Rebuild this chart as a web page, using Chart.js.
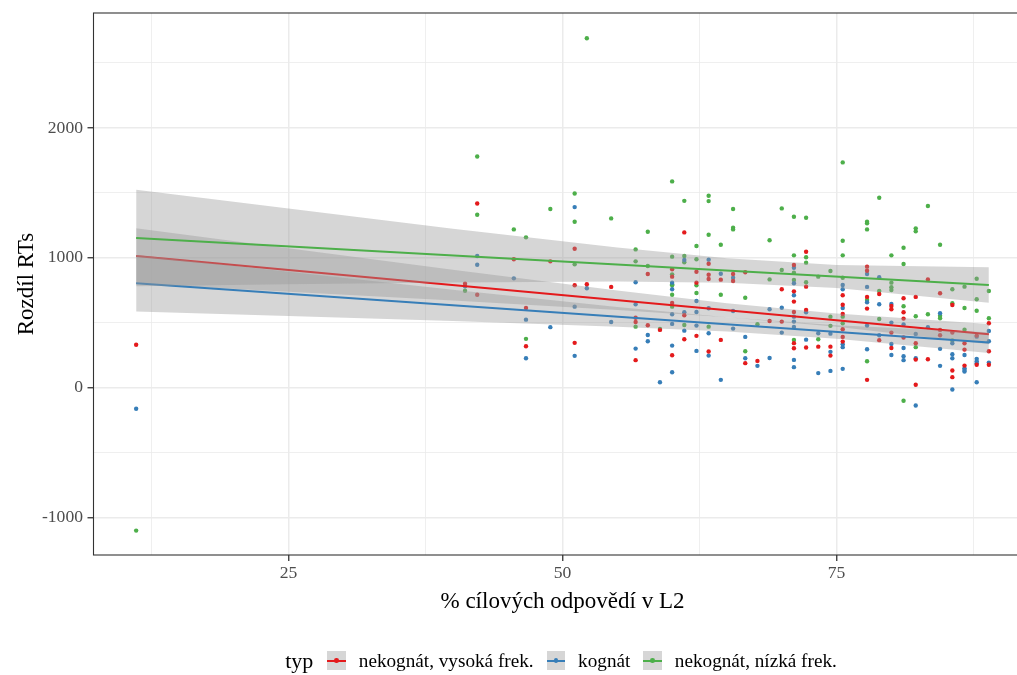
<!DOCTYPE html>
<html><head><meta charset="utf-8">
<script src="https://cdn.jsdelivr.net/npm/chart.js@4.4.1/dist/chart.umd.min.js"></script>
<style>
html,body{margin:0;padding:0;background:#fff;overflow:hidden;width:1017px;height:675px;}
#wrap{position:relative;width:1060px;height:675px;}
#legend{position:absolute;left:0;top:648px;width:1122px;height:25px;display:flex;justify-content:center;align-items:center;font-family:"Liberation Serif",serif;color:#000;white-space:nowrap;}
#legend .ttl{font-size:22px;margin-right:14px;}
#legend .key{position:relative;display:inline-block;width:18.5px;height:18.5px;background:#D6D6D6;margin-right:13px;}
#legend .ln{position:absolute;left:0;right:0;top:8.25px;height:2px;}
#legend .dt{position:absolute;left:6.95px;top:6.95px;width:4.6px;height:4.6px;border-radius:50%;}
#legend .lab{font-size:19.2px;margin-right:13px;}
#legend .lab:last-child{margin-right:0;}
</style>
</head><body>
<div id="wrap">
<canvas id="c" width="1060" height="675" style="width:1060px;height:675px"></canvas>
<div id="legend"></div>
</div>
<script>
// ---- data ----
const seriesNames = ['nekognát, vysoká frek.', 'kognát', 'nekognát, nízká frek.'];
const seriesColors = ['#E41A1C', '#377EB8', '#4DAF4A'];
const legendTitle = 'typ';
const xTitle = '% cílových odpovědí v L2';
const yTitle = 'Rozdíl RTs';

const xTickValues = [12.5, 25, 37.5, 50, 62.5, 75, 87.5];
const xMajorTicks = [25, 50, 75];
const yTickValues = [-1000, -500, 0, 500, 1000, 1500, 2000, 2500];
const yMajorTicks = [-1000, 0, 1000, 2000];
const xMin = 7.22, xMax = 92.78, yMin = -1290, yMax = 2885;

const redPts = [
[11.11,330],[41.11,800],[42.22,1418],[42.22,715],[45.56,988],[46.67,613],[46.67,318],[48.89,972],
[51.11,1069],[51.11,788],[51.11,344],[52.22,795],[54.44,775],[56.67,538],[56.67,505],[56.67,211],
[57.78,875],[57.78,480],[58.89,444],[60,911],[60,854],[60,651],[60,249],[61.11,1195],[61.11,557],[61.11,372],
[62.22,892],[62.22,808],[62.22,398],[63.33,954],[63.33,869],[63.33,836],[63.33,277],[64.44,831],[64.44,367],
[65.56,875],[65.56,821],[66.67,888],[66.67,188],[67.78,205],[68.89,513],[70,757],[70,508],
[71.11,944],[71.11,741],[71.11,662],[71.11,582],[71.11,342],[71.11,303],[72.22,1046],[72.22,777],[72.22,598],[72.22,308],
[73.33,315],[74.44,315],[74.44,246],[75.56,711],[75.56,638],[75.56,567],[75.56,449],[75.56,390],[75.56,354],
[77.78,931],[77.78,900],[77.78,698],[77.78,608],[77.78,59],[78.89,721],[78.89,365],[80,628],[80,603],[80,423],[80,305],
[81.11,688],[81.11,580],[81.11,531],[81.11,385],[82.22,698],[82.22,341],[82.22,215],[82.22,21],[83.33,833],[83.33,218],
[84.44,726],[84.44,444],[84.44,403],[85.56,636],[85.56,423],[85.56,131],[85.56,80],[86.67,341],[86.67,292],[86.67,169],
[87.78,400],[87.78,175],[88.89,495],[88.89,280],[88.89,175]
];
const bluePts = [
[11.11,-164],[41.11,780],[42.22,1013],[42.22,946],[45.56,841],[46.67,523],[46.67,226],[48.89,465],
[51.11,1390],[51.11,623],[51.11,244],[52.22,765],[54.44,505],[56.67,811],[56.67,641],[56.67,300],
[57.78,405],[57.78,357],[58.89,41],[60,808],[60,757],[60,565],[60,490],[60,323],[60,118],
[61.11,982],[61.11,580],[61.11,438],[62.22,667],[62.22,582],[62.22,477],[62.22,282],
[63.33,985],[63.33,611],[63.33,418],[63.33,246],[64.44,877],[64.44,59],[65.56,846],[65.56,590],[65.56,454],
[66.67,390],[66.67,226],[67.78,167],[68.89,603],[68.89,228],[70,615],[70,423],
[71.11,923],[71.11,803],[71.11,711],[71.11,546],[71.11,508],[71.11,467],[71.11,213],[71.11,157],
[72.22,580],[72.22,369],[73.33,418],[73.33,111],[74.44,415],[74.44,275],[74.44,128],
[75.56,790],[75.56,757],[75.56,613],[75.56,334],[75.56,311],[75.56,144],
[77.78,875],[77.78,775],[77.78,657],[77.78,477],[77.78,295],[78.89,849],[78.89,641],[78.89,403],
[80,644],[80,500],[80,336],[80,251],[81.11,485],[81.11,305],[81.11,241],[81.11,211],
[82.22,413],[82.22,226],[82.22,-138],[83.33,465],[84.44,572],[84.44,298],[84.44,167],
[85.56,341],[85.56,257],[85.56,226],[85.56,-15],[86.67,251],[86.67,149],[86.67,136],[86.67,123],
[87.78,392],[87.78,221],[87.78,203],[87.78,188],[87.78,41],[88.89,436],[88.89,357],[88.89,192]
];
const greenPts = [
[11.11,-1102],[41.11,745],[42.22,1780],[42.22,1331],[45.56,1218],[46.67,1157],[46.67,375],[48.89,1375],
[51.11,1495],[51.11,1277],[51.11,949],[52.22,2690],[54.44,1303],[56.67,1064],[56.67,972],[56.67,469],
[57.78,1200],[57.78,936],[58.89,451],[60,1588],[60,1008],[60,872],[60,795],[60,788],[60,715],[60,623],
[61.11,1438],[61.11,1013],[61.11,965],[61.11,482],[62.22,1090],[62.22,988],[62.22,788],[62.22,728],
[63.33,1477],[63.33,1436],[63.33,1177],[63.33,469],[64.44,1100],[64.44,715],[65.56,1375],[65.56,1231],[65.56,1218],
[66.67,692],[66.67,280],[67.78,487],[68.89,1134],[68.89,833],[70,1380],[70,905],
[71.11,1315],[71.11,1018],[71.11,885],[71.11,828],[71.11,367],[72.22,1308],[72.22,1003],[72.22,962],[72.22,811],
[73.33,854],[73.33,372],[74.44,898],[74.44,546],[74.44,475],
[75.56,1734],[75.56,1131],[75.56,1018],[75.56,846],[75.56,546],[75.56,495],
[77.78,1277],[77.78,1265],[77.78,1218],[77.78,675],[77.78,203],[78.89,1462],[78.89,744],[78.89,528],
[80,1018],[80,808],[80,772],[80,751],[81.11,1077],[81.11,951],[81.11,626],[81.11,-102],
[82.22,1226],[82.22,1203],[82.22,549],[82.22,311],[83.33,1398],[83.33,565],[84.44,1100],[84.44,552],[84.44,534],
[85.56,757],[85.56,649],[85.56,362],[86.67,777],[86.67,613],[86.67,446],[87.78,838],[87.78,680],[87.78,592],
[88.89,744],[88.89,534]
];

// fitted lines (read at the ends)
const lineX = [11.11, 88.89];
const redLine = [1013, 411];
const blueLine = [803, 346];
const greenLine = [1152, 790];

// confidence bands (read at several x positions)
const bandX = [11.11, 25, 40, 55, 65, 75, 88.89];
const redUpper = [1226, 1072, 908, 748, 650, 570, 489];
const redLower = [800, 738, 670, 598, 542, 468, 333];
const blueUpper = [1021, 891, 754, 621, 542, 480, 426];
const blueLower = [585, 551, 512, 469, 432, 376, 266];
const greenUpper = [1524, 1379, 1224, 1078, 995, 943, 926];
const greenLower = [780, 796, 810, 817, 807, 766, 654];

// ---- build ----
const FONT = '"Liberation Serif", "Times New Roman", serif';
const BAND_FILL = 'rgba(153,153,153,0.4)';
const allPts = [redPts, bluePts, greenPts];
const allLines = [redLine, blueLine, greenLine];
const allUpper = [redUpper, blueUpper, greenUpper];
const allLower = [redLower, blueLower, greenLower];

const datasets = [];
allPts.forEach((pts, i) => {
  datasets.push({
    type: 'scatter', label: seriesNames[i],
    data: pts.map(p => ({x: p[0], y: p[1]})),
    backgroundColor: seriesColors[i], borderWidth: 0, borderColor: 'rgba(0,0,0,0)',
    pointRadius: 2.2, order: 100 + i
  });
});
let ord = 60;
for (let i = 0; i < 3; i++) {
  datasets.push({
    type: 'line', data: bandX.map((x, j) => ({x, y: allUpper[i][j]})),
    borderColor: 'rgba(0,0,0,0)', borderWidth: 0, pointRadius: 0, fill: false, tension: 0, order: ord--
  });
  datasets.push({
    type: 'line', data: bandX.map((x, j) => ({x, y: allLower[i][j]})),
    borderColor: 'rgba(0,0,0,0)', borderWidth: 0, pointRadius: 0, fill: '-1', backgroundColor: BAND_FILL, tension: 0, order: ord--
  });
  datasets.push({
    type: 'line', data: lineX.map((x, j) => ({x, y: allLines[i][j]})),
    borderColor: seriesColors[i], borderWidth: 2, pointRadius: 0, fill: false, tension: 0, order: ord--
  });
}

const isMajor = (arr, v) => arr.indexOf(v) !== -1;

const panelBorder = {
  id: 'panelBorder',
  afterDraw(chart) {
    const {ctx, chartArea: a} = chart;
    ctx.save();
    ctx.strokeStyle = '#333333';
    ctx.lineWidth = 1.1;
    ctx.strokeRect(a.left, a.top, a.right - a.left, a.bottom - a.top);
    ctx.restore();
  }
};

new Chart(document.getElementById('c'), {
  type: 'scatter',
  data: {datasets},
  options: {
    responsive: false, animation: false, devicePixelRatio: 1, events: [],
    layout: {padding: {left: 0, right: 28.5, top: 13, bottom: 58.8}},
    plugins: {legend: {display: false}, tooltip: {enabled: false}, filler: {propagate: false}},
    scales: {
      x: {
        type: 'linear', position: 'bottom', min: xMin, max: xMax,
        afterBuildTicks: s => { s.ticks = xTickValues.map(v => ({value: v})); },
        afterFit: s => { s.height = 61.2; s.paddingLeft = 0; s.paddingRight = 0; },
        ticks: {
          callback: v => isMajor(xMajorTicks, v) ? String(v) : '',
          font: {family: FONT, size: 17.6}, color: '#4D4D4D', padding: 2, maxRotation: 0, autoSkip: false
        },
        grid: {
          color: '#EBEBEB',
          lineWidth: c => (c.tick && isMajor(xMajorTicks, c.tick.value)) ? 1.5 : 0.8,
          tickLength: 6, tickWidth: 1.3,
          tickColor: c => (c.tick && isMajor(xMajorTicks, c.tick.value)) ? '#333333' : 'rgba(0,0,0,0)'
        },
        border: {display: false},
        title: {display: true, text: xTitle, font: {family: FONT, size: 23}, color: '#000', padding: {top: 0, bottom: 0}}
      },
      y: {
        type: 'linear', position: 'left', min: yMin, max: yMax,
        afterBuildTicks: s => { s.ticks = yTickValues.map(v => ({value: v})); },
        afterFit: s => { s.width = 93.5; s.paddingTop = 0; s.paddingBottom = 0; },
        ticks: {
          callback: v => isMajor(yMajorTicks, v) ? String(v) : '',
          font: {family: FONT, size: 17.6}, color: '#4D4D4D', padding: 4.5, autoSkip: false
        },
        grid: {
          color: '#EBEBEB',
          lineWidth: c => (c.tick && isMajor(yMajorTicks, c.tick.value)) ? 1.5 : 0.8,
          tickLength: 6, tickWidth: 1.3,
          tickColor: c => (c.tick && isMajor(yMajorTicks, c.tick.value)) ? '#333333' : 'rgba(0,0,0,0)'
        },
        border: {display: false},
        title: {display: true, text: yTitle, font: {family: FONT, size: 23}, color: '#000', padding: {top: 13.2, bottom: 0}}
      }
    }
  },
  plugins: [panelBorder]
});

// ---- legend ----
const leg = document.getElementById('legend');
const t = document.createElement('span'); t.className = 'ttl'; t.textContent = legendTitle; leg.appendChild(t);
seriesNames.forEach((n, i) => {
  const k = document.createElement('span'); k.className = 'key';
  const ln = document.createElement('i'); ln.className = 'ln'; ln.style.background = seriesColors[i];
  const dt = document.createElement('i'); dt.className = 'dt'; dt.style.background = seriesColors[i];
  k.appendChild(ln); k.appendChild(dt); leg.appendChild(k);
  const l = document.createElement('span'); l.className = 'lab'; l.textContent = n; leg.appendChild(l);
});
</script>
</body></html>
